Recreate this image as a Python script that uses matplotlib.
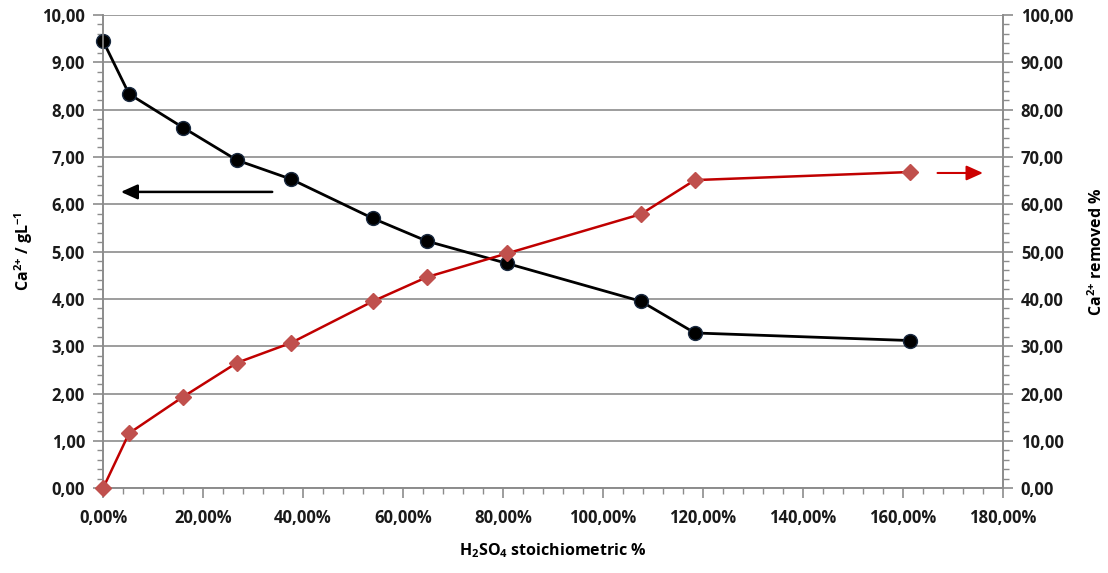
import matplotlib
matplotlib.use("Agg")
import matplotlib.pyplot as plt
from matplotlib.ticker import MultipleLocator, FuncFormatter

# Data
h2so4_pct = [0.0, 5.2, 16.0, 26.8, 37.6, 54.0, 64.8, 80.8, 107.6, 118.4, 161.4]
ca_conc = [9.45, 8.33, 7.62, 6.93, 6.53, 5.70, 5.22, 4.75, 3.95, 3.28, 3.12]
ca_removed = [0.0, 11.6, 19.3, 26.5, 30.7, 39.5, 44.6, 49.6, 57.9, 65.1, 66.8]

plt.rcParams['font.family'] = ['Open Sans', 'DejaVu Sans']
plt.rcParams['font.weight'] = 'bold'
plt.rcParams['mathtext.fontset'] = 'custom'
plt.rcParams['mathtext.rm'] = 'Open Sans:bold'
plt.rcParams['mathtext.bf'] = 'Open Sans:bold'
plt.rcParams['mathtext.it'] = 'Open Sans:bold'
plt.rcParams['mathtext.default'] = 'bf'

fig = plt.figure(figsize=(11.08, 5.73), dpi=100)
ax = fig.add_axes([0.093, 0.148, 0.812, 0.826])
ax2 = ax.twinx()

gray = '#8c8c8c'
ax.set_xlim(0, 180)
ax.set_ylim(0, 10)
ax2.set_ylim(0, 100)

ax.yaxis.grid(True, color=gray, linewidth=1.2)
ax.set_axisbelow(True)

ax.plot(h2so4_pct, ca_conc, color='black', linewidth=2, marker='o', markersize=10,
        markerfacecolor='black', markeredgecolor='#1a2a40', zorder=3, clip_on=False)
ax2.plot(h2so4_pct, ca_removed, color='#c00000', linewidth=1.8, marker='D', markersize=8,
         markerfacecolor='#c0504d', markeredgecolor='#c0504d', zorder=3, clip_on=False)

ax.xaxis.set_major_locator(MultipleLocator(20))
ax.xaxis.set_minor_locator(MultipleLocator(4))
ax.yaxis.set_major_locator(MultipleLocator(1))
ax.yaxis.set_minor_locator(MultipleLocator(0.2))
ax2.yaxis.set_major_locator(MultipleLocator(10))
ax2.yaxis.set_minor_locator(MultipleLocator(2))

ax.xaxis.set_major_formatter(FuncFormatter(lambda v, p: f"{v:.2f}%".replace('.', ',')))
ax.yaxis.set_major_formatter(FuncFormatter(lambda v, p: f"{v:.2f}".replace('.', ',')))
ax2.yaxis.set_major_formatter(FuncFormatter(lambda v, p: f"{v:.2f}".replace('.', ',')))

for a in (ax, ax2):
    for s in a.spines.values():
        s.set_color(gray)
        s.set_linewidth(1.2)
    a.spines['top'].set_visible(False)
    a.tick_params(which='both', color=gray, direction='out', labelsize=12, labelcolor='#1a1a1a')
    a.tick_params(which='major', length=7, width=1.2)
    a.tick_params(which='minor', length=4, width=1)

ax.tick_params(axis='x', pad=8)
ax.tick_params(axis='y', pad=6)
ax2.tick_params(axis='y', pad=6)
for lbl in ax.get_xticklabels() + ax.get_yticklabels() + ax2.get_yticklabels():
    lbl.set_fontweight('bold')

ax.set_xlabel('H$_2$SO$_4$ stoichiometric %', fontsize=11.5, fontweight='bold', labelpad=10)
ax.set_ylabel('Ca$^{2{+}}$ / gL$^{-1}$', fontsize=11.5, fontweight='bold', labelpad=5)
ax2.set_ylabel('Ca$^{2{+}}$ removed %', fontsize=11.5, fontweight='bold', labelpad=10)

# Arrows indicating axes
ax.annotate('', xy=(3.0, 6.26), xytext=(34.4, 6.26),
            arrowprops=dict(arrowstyle='-|>,head_length=1.0,head_width=0.45', color='black', lw=1.8))
ax2.annotate('', xy=(176.6, 66.6), xytext=(166.4, 66.6),
             arrowprops=dict(arrowstyle='-|>,head_length=1.0,head_width=0.45', color='#cc0000', lw=1.5))

fig.savefig('out.png', dpi=100)
